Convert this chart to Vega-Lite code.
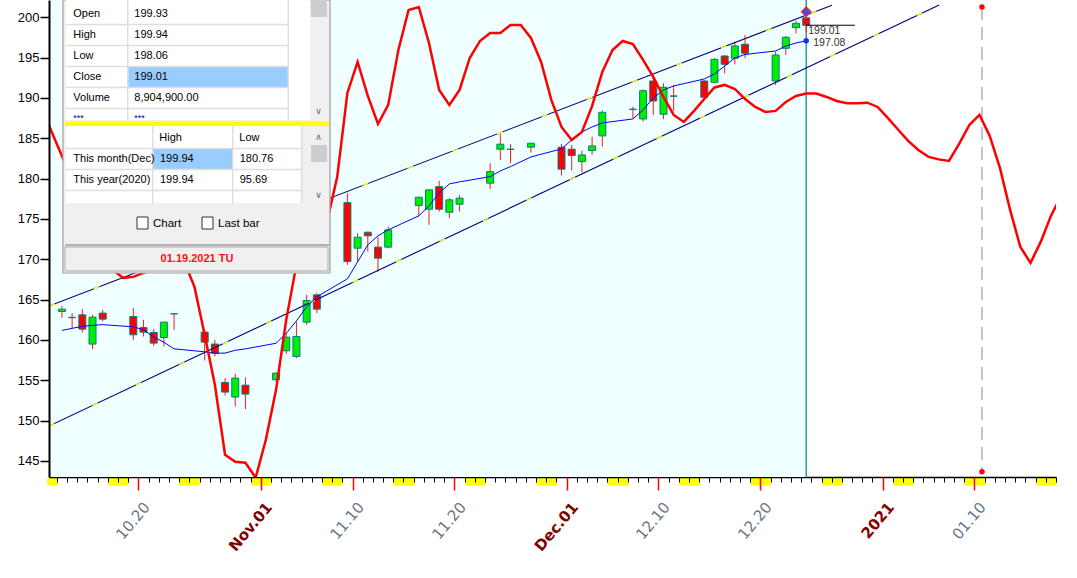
{
"$schema": "https://vega.github.io/schema/vega-lite/v6.json",
"width": 1007, "height": 477,
"autosize": {"type": "none"},
"padding": {"left": 49, "top": 0, "right": 21, "bottom": 101},
"background": "#ffffff",
"config": {"view": {"stroke": null}, "scale": {"continuousPadding": 0}},
"datasets": {
"candles": [
{"date":"2020-10-12T12:00:00Z","open":163.52,"high":164.22,"low":162.73,"close":163.81},
{"date":"2020-10-13T12:00:00Z","open":162.80,"high":163.32,"low":161.46,"close":162.75},
{"date":"2020-10-14T12:00:00Z","open":163.11,"high":163.81,"low":160.91,"close":161.33},
{"date":"2020-10-15T12:00:00Z","open":159.48,"high":163.11,"low":158.86,"close":162.82},
{"date":"2020-10-16T12:00:00Z","open":163.32,"high":163.73,"low":162.28,"close":162.57},
{"date":"2020-10-19T12:00:00Z","open":162.90,"high":163.94,"low":160.01,"close":160.63},
{"date":"2020-10-20T12:00:00Z","open":161.53,"high":162.49,"low":160.42,"close":160.96},
{"date":"2020-10-21T12:00:00Z","open":160.91,"high":161.33,"low":159.26,"close":159.60},
{"date":"2020-10-22T12:00:00Z","open":160.29,"high":162.24,"low":159.18,"close":162.20},
{"date":"2020-10-23T12:00:00Z","open":163.23,"high":163.25,"low":161.25,"close":163.24},
{"date":"2020-10-26T12:00:00Z","open":160.96,"high":161.25,"low":157.44,"close":159.72},
{"date":"2020-10-27T12:00:00Z","open":159.48,"high":160.01,"low":157.94,"close":158.36},
{"date":"2020-10-28T12:00:00Z","open":154.72,"high":155.26,"low":153.11,"close":153.53},
{"date":"2020-10-29T12:00:00Z","open":152.91,"high":155.80,"low":151.74,"close":155.26},
{"date":"2020-10-30T12:00:00Z","open":154.39,"high":155.34,"low":151.42,"close":153.28},
{"date":"2020-11-02T12:00:00Z","open":155.05,"high":155.95,"low":154.95,"close":155.88},
{"date":"2020-11-03T12:00:00Z","open":158.65,"high":160.87,"low":158.27,"close":160.34},
{"date":"2020-11-04T12:00:00Z","open":157.94,"high":162.28,"low":157.74,"close":160.42},
{"date":"2020-11-05T12:00:00Z","open":162.20,"high":165.58,"low":161.87,"close":164.88},
{"date":"2020-11-06T12:00:00Z","open":165.58,"high":165.80,"low":163.32,"close":163.81},
{"date":"2020-11-09T12:00:00Z","open":177.02,"high":178.19,"low":169.30,"close":169.71},
{"date":"2020-11-10T12:00:00Z","open":171.37,"high":173.23,"low":169.71,"close":172.73},
{"date":"2020-11-11T12:00:00Z","open":173.35,"high":173.43,"low":170.95,"close":172.90},
{"date":"2020-11-12T12:00:00Z","open":171.50,"high":172.73,"low":168.47,"close":170.13},
{"date":"2020-11-13T12:00:00Z","open":171.50,"high":174.05,"low":171.37,"close":173.64},
{"date":"2020-11-16T12:00:00Z","open":176.65,"high":177.72,"low":175.37,"close":177.69},
{"date":"2020-11-17T12:00:00Z","open":176.20,"high":178.68,"low":174.26,"close":178.60},
{"date":"2020-11-18T12:00:00Z","open":179.00,"high":179.71,"low":175.91,"close":176.20},
{"date":"2020-11-19T12:00:00Z","open":175.83,"high":177.57,"low":175.09,"close":177.36},
{"date":"2020-11-20T12:00:00Z","open":176.82,"high":177.94,"low":175.91,"close":177.57},
{"date":"2020-11-23T12:00:00Z","open":179.43,"high":181.90,"low":178.72,"close":180.86},
{"date":"2020-11-24T12:00:00Z","open":183.64,"high":185.54,"low":182.31,"close":184.26},
{"date":"2020-11-25T12:00:00Z","open":183.64,"high":184.30,"low":181.90,"close":183.62},
{"date":"2020-11-27T12:00:00Z","open":183.89,"high":184.40,"low":183.22,"close":184.38},
{"date":"2020-11-30T12:00:00Z","open":183.89,"high":184.30,"low":180.37,"close":181.16},
{"date":"2020-12-01T12:00:00Z","open":183.64,"high":184.17,"low":181.00,"close":182.85},
{"date":"2020-12-02T12:00:00Z","open":182.10,"high":183.47,"low":180.76,"close":182.93},
{"date":"2020-12-03T12:00:00Z","open":183.47,"high":185.20,"low":182.93,"close":184.05},
{"date":"2020-12-04T12:00:00Z","open":185.29,"high":188.45,"low":183.96,"close":188.22},
{"date":"2020-12-07T12:00:00Z","open":188.60,"high":188.92,"low":187.48,"close":188.58},
{"date":"2020-12-08T12:00:00Z","open":187.39,"high":191.07,"low":187.06,"close":190.90},
{"date":"2020-12-09T12:00:00Z","open":192.10,"high":192.85,"low":187.89,"close":189.62},
{"date":"2020-12-10T12:00:00Z","open":187.98,"high":191.82,"low":187.36,"close":191.32},
{"date":"2020-12-11T12:00:00Z","open":190.24,"high":191.61,"low":188.39,"close":190.22},
{"date":"2020-12-14T12:00:00Z","open":192.10,"high":192.23,"low":189.96,"close":190.08},
{"date":"2020-12-15T12:00:00Z","open":191.94,"high":194.92,"low":191.82,"close":194.79},
{"date":"2020-12-16T12:00:00Z","open":195.20,"high":195.32,"low":193.06,"close":194.17},
{"date":"2020-12-17T12:00:00Z","open":194.92,"high":196.97,"low":194.17,"close":196.44},
{"date":"2020-12-18T12:00:00Z","open":196.65,"high":197.80,"low":194.92,"close":195.54},
{"date":"2020-12-21T12:00:00Z","open":192.10,"high":195.73,"low":191.61,"close":195.32},
{"date":"2020-12-22T12:00:00Z","open":196.15,"high":197.68,"low":195.32,"close":197.52},
{"date":"2020-12-23T12:00:00Z","open":198.71,"high":199.57,"low":198.01,"close":199.25},
{"date":"2020-12-24T12:00:00Z","open":199.93,"high":199.94,"low":198.06,"close":199.01}
],
"ma": [
{"date":"2020-10-12T12:00:00Z","ma":161.18},{"date":"2020-10-13T12:00:00Z","ma":161.43},{"date":"2020-10-14T12:00:00Z","ma":161.68},{"date":"2020-10-15T12:00:00Z","ma":161.81},{"date":"2020-10-16T12:00:00Z","ma":161.89},
{"date":"2020-10-19T12:00:00Z","ma":161.62},{"date":"2020-10-20T12:00:00Z","ma":161.25},{"date":"2020-10-21T12:00:00Z","ma":160.38},{"date":"2020-10-22T12:00:00Z","ma":159.70},{"date":"2020-10-23T12:00:00Z","ma":158.89},
{"date":"2020-10-26T12:00:00Z","ma":158.52},{"date":"2020-10-27T12:00:00Z","ma":158.34},{"date":"2020-10-28T12:00:00Z","ma":158.36},{"date":"2020-10-29T12:00:00Z","ma":158.71},{"date":"2020-10-30T12:00:00Z","ma":158.89},
{"date":"2020-11-02T12:00:00Z","ma":159.58},{"date":"2020-11-03T12:00:00Z","ma":160.81},{"date":"2020-11-04T12:00:00Z","ma":162.36},{"date":"2020-11-05T12:00:00Z","ma":164.10},{"date":"2020-11-06T12:00:00Z","ma":165.34},
{"date":"2020-11-09T12:00:00Z","ma":167.57},{"date":"2020-11-10T12:00:00Z","ma":169.67},{"date":"2020-11-11T12:00:00Z","ma":171.78},{"date":"2020-11-12T12:00:00Z","ma":172.90},{"date":"2020-11-13T12:00:00Z","ma":173.64},
{"date":"2020-11-16T12:00:00Z","ma":175.37},{"date":"2020-11-17T12:00:00Z","ma":176.61},{"date":"2020-11-18T12:00:00Z","ma":178.22},{"date":"2020-11-19T12:00:00Z","ma":179.34},{"date":"2020-11-20T12:00:00Z","ma":179.59},
{"date":"2020-11-23T12:00:00Z","ma":180.24},{"date":"2020-11-24T12:00:00Z","ma":180.95},{"date":"2020-11-25T12:00:00Z","ma":181.48},{"date":"2020-11-27T12:00:00Z","ma":182.68},
{"date":"2020-11-30T12:00:00Z","ma":183.68},{"date":"2020-12-01T12:00:00Z","ma":184.79},{"date":"2020-12-02T12:00:00Z","ma":185.78},{"date":"2020-12-03T12:00:00Z","ma":186.40},{"date":"2020-12-04T12:00:00Z","ma":186.90},
{"date":"2020-12-07T12:00:00Z","ma":187.39},{"date":"2020-12-08T12:00:00Z","ma":188.51},{"date":"2020-12-09T12:00:00Z","ma":190.00},{"date":"2020-12-10T12:00:00Z","ma":190.99},{"date":"2020-12-11T12:00:00Z","ma":191.48},
{"date":"2020-12-14T12:00:00Z","ma":192.35},{"date":"2020-12-15T12:00:00Z","ma":192.97},{"date":"2020-12-16T12:00:00Z","ma":193.96},{"date":"2020-12-17T12:00:00Z","ma":194.95},{"date":"2020-12-18T12:00:00Z","ma":195.39},
{"date":"2020-12-21T12:00:00Z","ma":195.82},{"date":"2020-12-22T12:00:00Z","ma":196.44},{"date":"2020-12-23T12:00:00Z","ma":196.81},{"date":"2020-12-24T12:00:00Z","ma":197.08}
],
"osc": [
{"date":"2020-10-10T12:00:00Z","osc":188.76},{"date":"2020-10-11T12:00:00Z","osc":185.78},{"date":"2020-10-12T12:00:00Z","osc":182.81},{"date":"2020-10-13T12:00:00Z","osc":179.83},{"date":"2020-10-14T12:00:00Z","osc":176.74},
{"date":"2020-10-15T12:00:00Z","osc":173.89},{"date":"2020-10-16T12:00:00Z","osc":170.91},{"date":"2020-10-17T12:00:00Z","osc":168.68},{"date":"2020-10-18T12:00:00Z","osc":167.69},{"date":"2020-10-19T12:00:00Z","osc":167.81},
{"date":"2020-10-20T12:00:00Z","osc":168.31},{"date":"2020-10-21T12:00:00Z","osc":168.68},{"date":"2020-10-22T12:00:00Z","osc":168.93},{"date":"2020-10-23T12:00:00Z","osc":169.18},{"date":"2020-10-24T12:00:00Z","osc":169.67},
{"date":"2020-10-25T12:00:00Z","osc":166.57},{"date":"2020-10-26T12:00:00Z","osc":160.63},{"date":"2020-10-27T12:00:00Z","osc":154.43},{"date":"2020-10-28T12:00:00Z","osc":145.76},{"date":"2020-10-29T12:00:00Z","osc":144.89},
{"date":"2020-10-30T12:00:00Z","osc":144.76},{"date":"2020-10-31T12:00:00Z","osc":142.91},{"date":"2020-11-01T12:00:00Z","osc":147.62},{"date":"2020-11-02T12:00:00Z","osc":153.81},{"date":"2020-11-03T12:00:00Z","osc":162.49},
{"date":"2020-11-04T12:00:00Z","osc":169.30},{"date":"2020-11-05T12:00:00Z","osc":171.78},{"date":"2020-11-06T12:00:00Z","osc":173.02},{"date":"2020-11-07T12:00:00Z","osc":174.63},{"date":"2020-11-08T12:00:00Z","osc":180.21},
{"date":"2020-11-09T12:00:00Z","osc":190.62},{"date":"2020-11-10T12:00:00Z","osc":194.46},{"date":"2020-11-11T12:00:00Z","osc":190.24},{"date":"2020-11-12T12:00:00Z","osc":186.77},{"date":"2020-11-13T12:00:00Z","osc":189.13},
{"date":"2020-11-14T12:00:00Z","osc":195.94},{"date":"2020-11-15T12:00:00Z","osc":200.90},{"date":"2020-11-16T12:00:00Z","osc":201.27},{"date":"2020-11-17T12:00:00Z","osc":196.81},{"date":"2020-11-18T12:00:00Z","osc":190.99},
{"date":"2020-11-19T12:00:00Z","osc":189.13},{"date":"2020-11-20T12:00:00Z","osc":190.99},{"date":"2020-11-21T12:00:00Z","osc":194.95},{"date":"2020-11-22T12:00:00Z","osc":197.06},{"date":"2020-11-23T12:00:00Z","osc":198.05},
{"date":"2020-11-24T12:00:00Z","osc":198.05},{"date":"2020-11-25T12:00:00Z","osc":199.04},{"date":"2020-11-26T12:00:00Z","osc":199.04},{"date":"2020-11-27T12:00:00Z","osc":197.43},{"date":"2020-11-28T12:00:00Z","osc":194.46},
{"date":"2020-11-29T12:00:00Z","osc":189.75},{"date":"2020-11-30T12:00:00Z","osc":186.40},{"date":"2020-12-01T12:00:00Z","osc":184.79},{"date":"2020-12-02T12:00:00Z","osc":185.78},{"date":"2020-12-03T12:00:00Z","osc":189.00},
{"date":"2020-12-04T12:00:00Z","osc":193.22},{"date":"2020-12-05T12:00:00Z","osc":195.94},{"date":"2020-12-06T12:00:00Z","osc":197.06},{"date":"2020-12-07T12:00:00Z","osc":196.69},{"date":"2020-12-08T12:00:00Z","osc":194.71},
{"date":"2020-12-09T12:00:00Z","osc":192.60},{"date":"2020-12-10T12:00:00Z","osc":190.12},{"date":"2020-12-11T12:00:00Z","osc":187.89},{"date":"2020-12-12T12:00:00Z","osc":187.02},{"date":"2020-12-13T12:00:00Z","osc":188.39},
{"date":"2020-12-14T12:00:00Z","osc":189.87},{"date":"2020-12-15T12:00:00Z","osc":191.30},{"date":"2020-12-16T12:00:00Z","osc":191.61},{"date":"2020-12-17T12:00:00Z","osc":191.11},{"date":"2020-12-18T12:00:00Z","osc":189.87},
{"date":"2020-12-19T12:00:00Z","osc":188.88},{"date":"2020-12-20T12:00:00Z","osc":188.26},{"date":"2020-12-21T12:00:00Z","osc":188.39},{"date":"2020-12-22T12:00:00Z","osc":189.50},{"date":"2020-12-23T12:00:00Z","osc":190.24},
{"date":"2020-12-24T12:00:00Z","osc":190.55},{"date":"2020-12-25T12:00:00Z","osc":190.55},{"date":"2020-12-26T12:00:00Z","osc":190.12},{"date":"2020-12-27T12:00:00Z","osc":189.62},{"date":"2020-12-28T12:00:00Z","osc":189.34},
{"date":"2020-12-29T12:00:00Z","osc":189.34},{"date":"2020-12-30T12:00:00Z","osc":189.41},{"date":"2020-12-31T12:00:00Z","osc":188.88},{"date":"2021-01-01T12:00:00Z","osc":187.52},{"date":"2021-01-02T12:00:00Z","osc":186.09},
{"date":"2021-01-03T12:00:00Z","osc":184.67},{"date":"2021-01-04T12:00:00Z","osc":183.55},{"date":"2021-01-05T12:00:00Z","osc":182.69},{"date":"2021-01-06T12:00:00Z","osc":182.38},{"date":"2021-01-07T12:00:00Z","osc":182.19},
{"date":"2021-01-08T12:00:00Z","osc":184.30},{"date":"2021-01-09T12:00:00Z","osc":186.65},{"date":"2021-01-10T12:00:00Z","osc":187.89},{"date":"2021-01-11T12:00:00Z","osc":185.29},{"date":"2021-01-12T12:00:00Z","osc":181.32},
{"date":"2021-01-13T12:00:00Z","osc":176.12},{"date":"2021-01-14T12:00:00Z","osc":171.53},{"date":"2021-01-15T12:00:00Z","osc":169.55},{"date":"2021-01-16T12:00:00Z","osc":172.15},{"date":"2021-01-17T12:00:00Z","osc":175.37},
{"date":"2021-01-18T12:00:00Z","osc":177.85}
],
"channel": [
{"line":"upper","date":"2020-10-11T05:30:00Z","price":164.20},
{"line":"upper","date":"2020-12-27T00:45:00Z","price":201.48},
{"line":"lower","date":"2020-10-11T05:30:00Z","price":149.31},
{"line":"lower","date":"2021-01-06T13:00:00Z","price":201.52}
],
"last": [{"date":"2020-12-24T12:00:00Z","close":199.01,"ma":197.08}]
},
"layer": [
{
"layer": [
{"data": {"values": [{}]},
 "mark": {"type": "rect", "fill": "#f0ffff"},
 "encoding": {
  "x": {"datum": 1602394400000, "type": "temporal", "scale": {"type": "utc", "domain": [1602394400000, 1610928000000], "padding": 0},
        "axis": {"orient": "bottom", "values": [1602417600000,1602936000000,1603022400000,1603540800000,1603627200000,1604145600000,1604232000000,1604750400000,1604836800000,1605355200000,1605441600000,1605960000000,1606046400000,1606564800000,1606651200000,1607169600000,1607256000000,1607774400000,1607860800000,1608379200000,1608465600000,1608984000000,1609070400000,1609588800000,1609675200000,1610193600000,1610280000000,1610798400000,1610884800000],
                 "tickColor": "#ffff00", "tickWidth": 10.4, "tickSize": 8, "labels": false, "domain": false, "grid": false, "title": null}},
  "x2": {"datum": 1608811200000},
  "y": {"datum": 202.14, "type": "quantitative", "scale": {"domain": [143.0, 202.14], "zero": false, "nice": false, "padding": 0},
        "axis": {"orient": "left", "values": [145,150,155,160,165,170,175,180,185,190,195,200], "tickSize": 9, "tickColor": "#000000", "tickWidth": 1.5, "domain": true, "domainColor": "#000000", "domainWidth": 2, "labels": true, "labelFont": "Liberation Sans", "labelFontSize": 13, "labelColor": "#000000", "labelPadding": 1, "title": null, "grid": false, "zindex": 1}},
  "y2": {"datum": 143.0}
 }},
{"data": {"values": [{}]},
 "mark": {"type": "rule", "color": "#008080", "strokeWidth": 1.2},
 "encoding": {
  "x": {"datum": 1608811200000, "type": "temporal", "scale": {"type": "utc", "domain": [1602394400000, 1610928000000], "padding": 0}, "axis": null},
  "y": {"datum": 202.14, "type": "quantitative", "scale": {"domain": [143.0, 202.14], "zero": false, "nice": false, "padding": 0}, "axis": null},
  "y2": {"datum": 143.0}
 }},
{"data": {"values": [{}]},
 "mark": {"type": "rule", "color": "#c4c4c4", "strokeWidth": 2, "strokeDash": [13, 7]},
 "encoding": {
  "x": {"datum": 1610300700000, "type": "temporal", "scale": {"type": "utc", "domain": [1602394400000, 1610928000000], "padding": 0}, "axis": null},
  "y": {"datum": 201.27, "type": "quantitative", "scale": {"domain": [143.0, 202.14], "zero": false, "nice": false, "padding": 0}, "axis": null},
  "y2": {"datum": 143.65}
 }},
{"data": {"values": [{"p": 201.27}, {"p": 143.65}]},
 "mark": {"type": "point", "filled": true, "color": "#ff0000", "size": 30, "opacity": 1},
 "encoding": {
  "x": {"datum": 1610300700000, "type": "temporal", "scale": {"type": "utc", "domain": [1602394400000, 1610928000000], "padding": 0}, "axis": null},
  "y": {"field": "p", "type": "quantitative", "scale": {"domain": [143.0, 202.14], "zero": false, "nice": false, "padding": 0}, "axis": null}
 }},
{"data": {"name": "candles"},
 "mark": {"type": "rule", "color": "#ff1a1a", "strokeWidth": 1},
 "encoding": {
  "x": {"field": "date", "type": "temporal", "scale": {"type": "utc", "domain": [1602394400000, 1610928000000], "padding": 0},
        "axis": {"orient": "bottom", "tickCount": {"interval": "day", "step": 1}, "tickColor": "#000000", "tickSize": 5, "tickWidth": 1, "labels": false, "domain": true, "domainColor": "#000000", "domainWidth": 1.5, "grid": false, "title": null}},
  "y": {"field": "low", "type": "quantitative", "scale": {"domain": [143.0, 202.14], "zero": false, "nice": false, "padding": 0}, "axis": null},
  "y2": {"field": "high"}
 }},
{"data": {"name": "candles"},
 "mark": {"type": "bar", "width": 7, "stroke": "#008080", "strokeWidth": 1},
 "encoding": {
  "x": {"field": "date", "type": "temporal", "scale": {"type": "utc", "domain": [1602394400000, 1610928000000], "padding": 0},
        "axis": {"orient": "bottom", "values": [1603152000000,1604188800000,1604966400000,1605830400000,1606780800000,1607558400000,1608422400000,1609459200000,1610236800000],
                 "tickColor": "#ff0000", "tickSize": 13, "tickWidth": 1.5, "domain": false, "grid": false, "title": null,
                 "labelExpr": "utcdate(datum.value) == 1 ? (utcmonth(datum.value) == 0 ? utcFormat(datum.value, '%Y') : utcFormat(datum.value, '%b.%d')) : utcFormat(datum.value, '%m.%d')",
                 "labelAngle": -50, "labelAlign": "right", "labelBaseline": "middle", "labelPadding": 14, "labelOffset": 8,
                 "labelFont": "DejaVu Sans", "labelFontSize": 15,
                 "labelColor": {"condition": {"test": "utcdate(datum.value) == 1", "value": "#800000"}, "value": "#667788"},
                 "labelFontWeight": {"condition": {"test": "utcdate(datum.value) == 1", "value": "bold"}, "value": "normal"},
                 "labelOverlap": false, "labelFlush": false, "labelBound": false}},
  "y": {"field": "open", "type": "quantitative", "scale": {"domain": [143.0, 202.14], "zero": false, "nice": false, "padding": 0}, "axis": null},
  "y2": {"field": "close"},
  "fill": {"condition": {"test": "datum.close >= datum.open", "value": "#00ee00"}, "value": "#ff0000"}
 }},
{"data": {"name": "channel"},
 "mark": {"type": "line", "color": "#000080", "strokeWidth": 1.1, "clip": true},
 "encoding": {
  "x": {"field": "date", "type": "temporal", "scale": {"type": "utc", "domain": [1602394400000, 1610928000000], "padding": 0}, "axis": null},
  "y": {"field": "price", "type": "quantitative", "scale": {"domain": [143.0, 202.14], "zero": false, "nice": false, "padding": 0}, "axis": null},
  "detail": {"field": "line"}
 }},
{"data": {"name": "channel"},
 "mark": {"type": "line", "color": "#ffff00", "strokeWidth": 1.3, "strokeDash": [6, 42], "clip": true},
 "encoding": {
  "x": {"field": "date", "type": "temporal", "scale": {"type": "utc", "domain": [1602394400000, 1610928000000], "padding": 0}, "axis": null},
  "y": {"field": "price", "type": "quantitative", "scale": {"domain": [143.0, 202.14], "zero": false, "nice": false, "padding": 0}, "axis": null},
  "detail": {"field": "line"}
 }},
{"data": {"name": "ma"},
 "mark": {"type": "line", "color": "#0000ff", "strokeWidth": 1},
 "encoding": {
  "x": {"field": "date", "type": "temporal", "scale": {"type": "utc", "domain": [1602394400000, 1610928000000], "padding": 0}, "axis": null},
  "y": {"field": "ma", "type": "quantitative", "scale": {"domain": [143.0, 202.14], "zero": false, "nice": false, "padding": 0}, "axis": null}
 }},
{"data": {"name": "osc"},
 "mark": {"type": "line", "color": "#ff0000", "strokeWidth": 2.5, "clip": true},
 "encoding": {
  "x": {"field": "date", "type": "temporal", "scale": {"type": "utc", "domain": [1602394400000, 1610928000000], "padding": 0}, "axis": null},
  "y": {"field": "osc", "type": "quantitative", "scale": {"domain": [143.0, 202.14], "zero": false, "nice": false, "padding": 0}, "axis": null}
 }},
{"data": {"name": "last"},
 "mark": {"type": "rule", "color": "#000000", "strokeWidth": 1},
 "encoding": {
  "x": {"field": "date", "type": "temporal", "scale": {"type": "utc", "domain": [1602394400000, 1610928000000], "padding": 0}, "axis": null},
  "x2": {"datum": 1609224192000},
  "y": {"field": "close", "type": "quantitative", "scale": {"domain": [143.0, 202.14], "zero": false, "nice": false, "padding": 0}, "axis": null}
 }},
{"data": {"name": "last"},
 "mark": {"type": "text", "align": "left", "baseline": "middle", "dx": 2, "dy": 6, "font": "Liberation Sans", "fontSize": 10.5, "color": "#303030"},
 "encoding": {
  "x": {"field": "date", "type": "temporal", "scale": {"type": "utc", "domain": [1602394400000, 1610928000000], "padding": 0}, "axis": null},
  "y": {"field": "close", "type": "quantitative", "scale": {"domain": [143.0, 202.14], "zero": false, "nice": false, "padding": 0}, "axis": null},
  "text": {"field": "close", "type": "quantitative", "format": ".2f"}
 }},
{"data": {"name": "last"},
 "mark": {"type": "text", "align": "left", "baseline": "middle", "dx": 7, "dy": 2, "font": "Liberation Sans", "fontSize": 10.5, "color": "#303030"},
 "encoding": {
  "x": {"field": "date", "type": "temporal", "scale": {"type": "utc", "domain": [1602394400000, 1610928000000], "padding": 0}, "axis": null},
  "y": {"field": "ma", "type": "quantitative", "scale": {"domain": [143.0, 202.14], "zero": false, "nice": false, "padding": 0}, "axis": null},
  "text": {"field": "ma", "type": "quantitative", "format": ".2f"}
 }},
{"data": {"name": "last"},
 "mark": {"type": "point", "filled": true, "color": "#1030ff", "size": 30, "opacity": 1},
 "encoding": {
  "x": {"field": "date", "type": "temporal", "scale": {"type": "utc", "domain": [1602394400000, 1610928000000], "padding": 0}, "axis": null},
  "y": {"field": "ma", "type": "quantitative", "scale": {"domain": [143.0, 202.14], "zero": false, "nice": false, "padding": 0}, "axis": null}
 }},
{"data": {"name": "last"},
 "mark": {"type": "point", "shape": "diamond", "filled": true, "fill": "#3050ff", "stroke": "#ff2020", "strokeWidth": 1.2, "size": 90, "opacity": 1},
 "encoding": {
  "x": {"field": "date", "type": "temporal", "scale": {"type": "utc", "domain": [1602394400000, 1610928000000], "padding": 0}, "axis": null},
  "y": {"datum": 200.69, "type": "quantitative", "scale": {"domain": [143.0, 202.14], "zero": false, "nice": false, "padding": 0}, "axis": null}
 }}
],
"resolve": {"axis": {"x": "independent", "y": "independent"}}
},
{
"data": {"values": [{}]},
"layer": [
{"mark": {"type": "rect", "fill": "#f0f0f0", "stroke": "#a0a0a0", "strokeWidth": 1.2},
 "encoding": {"x": {"datum": 0, "type": "quantitative", "scale": {"domain": [0, 267], "range": [14, 281]}, "axis": null}, "x2": {"datum": 267},
  "y": {"datum": 0, "type": "quantitative", "scale": {"domain": [0, 273], "range": [0, 273]}, "axis": null}, "y2": {"datum": 273}}},
{"mark": {"type": "rect", "fill": "#ffffff"},
 "encoding": {"x": {"datum": 3, "type": "quantitative", "scale": {"domain": [0, 267], "range": [14, 281]}, "axis": null}, "x2": {"datum": 247},
  "y": {"datum": 0, "type": "quantitative", "scale": {"domain": [0, 273], "range": [0, 273]}, "axis": null}, "y2": {"datum": 120}}},
{"mark": {"type": "rect", "fill": "#cdcdcd"},
 "encoding": {"x": {"datum": 248, "type": "quantitative", "scale": {"domain": [0, 267], "range": [14, 281]}, "axis": null}, "x2": {"datum": 264},
  "y": {"datum": 0, "type": "quantitative", "scale": {"domain": [0, 273], "range": [0, 273]}, "axis": null}, "y2": {"datum": 17}}},
{"mark": {"type": "rect", "fill": "#99ccff"},
 "encoding": {"x": {"datum": 65.3, "type": "quantitative", "scale": {"domain": [0, 267], "range": [14, 281]}, "axis": null}, "x2": {"datum": 225},
  "y": {"datum": 67, "type": "quantitative", "scale": {"domain": [0, 273], "range": [0, 273]}, "axis": null}, "y2": {"datum": 87}}},
{"data": {"values": [{"v": 24.5}, {"v": 45.5}, {"v": 66.5}, {"v": 87.5}, {"v": 108.5}]},
 "mark": {"type": "rule", "color": "#dedede", "strokeWidth": 1.5},
 "encoding": {"x": {"datum": 3, "type": "quantitative", "scale": {"domain": [0, 267], "range": [14, 281]}, "axis": null}, "x2": {"datum": 225},
  "y": {"field": "v", "type": "quantitative", "scale": {"domain": [0, 273], "range": [0, 273]}, "axis": null}}},
{"data": {"values": [{"u": 64.7}, {"u": 225.3}]},
 "mark": {"type": "rule", "color": "#dedede", "strokeWidth": 1.5},
 "encoding": {"x": {"field": "u", "type": "quantitative", "scale": {"domain": [0, 267], "range": [14, 281]}, "axis": null},
  "y": {"datum": 0, "type": "quantitative", "scale": {"domain": [0, 273], "range": [0, 273]}, "axis": null}, "y2": {"datum": 120}}},
{"mark": {"type": "text", "text": "Open", "align": "left", "baseline": "middle", "font": "Liberation Sans", "fontSize": 11, "color": "#000000"},
 "encoding": {"x": {"datum": 10.3, "type": "quantitative", "scale": {"domain": [0, 267], "range": [14, 281]}, "axis": null},
  "y": {"datum": 14.3, "type": "quantitative", "scale": {"domain": [0, 273], "range": [0, 273]}, "axis": null}}},
{"mark": {"type": "text", "text": "199.93", "align": "left", "baseline": "middle", "font": "Liberation Sans", "fontSize": 11, "color": "#000000"},
 "encoding": {"x": {"datum": 71.3, "type": "quantitative", "scale": {"domain": [0, 267], "range": [14, 281]}, "axis": null},
  "y": {"datum": 14.3, "type": "quantitative", "scale": {"domain": [0, 273], "range": [0, 273]}, "axis": null}}},
{"mark": {"type": "text", "text": "High", "align": "left", "baseline": "middle", "font": "Liberation Sans", "fontSize": 11, "color": "#000000"},
 "encoding": {"x": {"datum": 10.3, "type": "quantitative", "scale": {"domain": [0, 267], "range": [14, 281]}, "axis": null},
  "y": {"datum": 35.3, "type": "quantitative", "scale": {"domain": [0, 273], "range": [0, 273]}, "axis": null}}},
{"mark": {"type": "text", "text": "199.94", "align": "left", "baseline": "middle", "font": "Liberation Sans", "fontSize": 11, "color": "#000000"},
 "encoding": {"x": {"datum": 71.3, "type": "quantitative", "scale": {"domain": [0, 267], "range": [14, 281]}, "axis": null},
  "y": {"datum": 35.3, "type": "quantitative", "scale": {"domain": [0, 273], "range": [0, 273]}, "axis": null}}},
{"mark": {"type": "text", "text": "Low", "align": "left", "baseline": "middle", "font": "Liberation Sans", "fontSize": 11, "color": "#000000"},
 "encoding": {"x": {"datum": 10.3, "type": "quantitative", "scale": {"domain": [0, 267], "range": [14, 281]}, "axis": null},
  "y": {"datum": 56.3, "type": "quantitative", "scale": {"domain": [0, 273], "range": [0, 273]}, "axis": null}}},
{"mark": {"type": "text", "text": "198.06", "align": "left", "baseline": "middle", "font": "Liberation Sans", "fontSize": 11, "color": "#000000"},
 "encoding": {"x": {"datum": 71.3, "type": "quantitative", "scale": {"domain": [0, 267], "range": [14, 281]}, "axis": null},
  "y": {"datum": 56.3, "type": "quantitative", "scale": {"domain": [0, 273], "range": [0, 273]}, "axis": null}}},
{"mark": {"type": "text", "text": "Close", "align": "left", "baseline": "middle", "font": "Liberation Sans", "fontSize": 11, "color": "#000000"},
 "encoding": {"x": {"datum": 10.3, "type": "quantitative", "scale": {"domain": [0, 267], "range": [14, 281]}, "axis": null},
  "y": {"datum": 77.3, "type": "quantitative", "scale": {"domain": [0, 273], "range": [0, 273]}, "axis": null}}},
{"mark": {"type": "text", "text": "199.01", "align": "left", "baseline": "middle", "font": "Liberation Sans", "fontSize": 11, "color": "#000000"},
 "encoding": {"x": {"datum": 71.3, "type": "quantitative", "scale": {"domain": [0, 267], "range": [14, 281]}, "axis": null},
  "y": {"datum": 77.3, "type": "quantitative", "scale": {"domain": [0, 273], "range": [0, 273]}, "axis": null}}},
{"mark": {"type": "text", "text": "Volume", "align": "left", "baseline": "middle", "font": "Liberation Sans", "fontSize": 11, "color": "#000000"},
 "encoding": {"x": {"datum": 10.3, "type": "quantitative", "scale": {"domain": [0, 267], "range": [14, 281]}, "axis": null},
  "y": {"datum": 98.3, "type": "quantitative", "scale": {"domain": [0, 273], "range": [0, 273]}, "axis": null}}},
{"mark": {"type": "text", "text": "8,904,900.00", "align": "left", "baseline": "middle", "font": "Liberation Sans", "fontSize": 11, "color": "#000000"},
 "encoding": {"x": {"datum": 71.3, "type": "quantitative", "scale": {"domain": [0, 267], "range": [14, 281]}, "axis": null},
  "y": {"datum": 98.3, "type": "quantitative", "scale": {"domain": [0, 273], "range": [0, 273]}, "axis": null}}},
{"mark": {"type": "text", "text": "***", "align": "left", "baseline": "middle", "font": "Liberation Sans", "fontSize": 9, "color": "#000080"},
 "encoding": {"x": {"datum": 10.3, "type": "quantitative", "scale": {"domain": [0, 267], "range": [14, 281]}, "axis": null},
  "y": {"datum": 118, "type": "quantitative", "scale": {"domain": [0, 273], "range": [0, 273]}, "axis": null}}},
{"mark": {"type": "text", "text": "***", "align": "left", "baseline": "middle", "font": "Liberation Sans", "fontSize": 9, "color": "#000080"},
 "encoding": {"x": {"datum": 71.3, "type": "quantitative", "scale": {"domain": [0, 267], "range": [14, 281]}, "axis": null},
  "y": {"datum": 118, "type": "quantitative", "scale": {"domain": [0, 273], "range": [0, 273]}, "axis": null}}},
{"mark": {"type": "text", "text": "∨", "align": "center", "baseline": "middle", "font": "DejaVu Sans", "fontSize": 9, "color": "#606060"},
 "encoding": {"x": {"datum": 255.5, "type": "quantitative", "scale": {"domain": [0, 267], "range": [14, 281]}, "axis": null},
  "y": {"datum": 111, "type": "quantitative", "scale": {"domain": [0, 273], "range": [0, 273]}, "axis": null}}},
{"mark": {"type": "rect", "fill": "#ffff00"},
 "encoding": {"x": {"datum": 2, "type": "quantitative", "scale": {"domain": [0, 267], "range": [14, 281]}, "axis": null}, "x2": {"datum": 266},
  "y": {"datum": 121.5, "type": "quantitative", "scale": {"domain": [0, 273], "range": [0, 273]}, "axis": null}, "y2": {"datum": 126}}},
{"mark": {"type": "rect", "fill": "#ffffff"},
 "encoding": {"x": {"datum": 3, "type": "quantitative", "scale": {"domain": [0, 267], "range": [14, 281]}, "axis": null}, "x2": {"datum": 239},
  "y": {"datum": 126, "type": "quantitative", "scale": {"domain": [0, 273], "range": [0, 273]}, "axis": null}, "y2": {"datum": 203}}},
{"mark": {"type": "rect", "fill": "#99ccff"},
 "encoding": {"x": {"datum": 90, "type": "quantitative", "scale": {"domain": [0, 267], "range": [14, 281]}, "axis": null}, "x2": {"datum": 169},
  "y": {"datum": 149, "type": "quantitative", "scale": {"domain": [0, 273], "range": [0, 273]}, "axis": null}, "y2": {"datum": 169}}},
{"data": {"values": [{"v": 148.5}, {"v": 169.5}, {"v": 190.5}]},
 "mark": {"type": "rule", "color": "#dedede", "strokeWidth": 1.5},
 "encoding": {"x": {"datum": 3, "type": "quantitative", "scale": {"domain": [0, 267], "range": [14, 281]}, "axis": null}, "x2": {"datum": 239},
  "y": {"field": "v", "type": "quantitative", "scale": {"domain": [0, 273], "range": [0, 273]}, "axis": null}}},
{"data": {"values": [{"u": 89.7}, {"u": 169.7}, {"u": 238.7}]},
 "mark": {"type": "rule", "color": "#dedede", "strokeWidth": 1.5},
 "encoding": {"x": {"field": "u", "type": "quantitative", "scale": {"domain": [0, 267], "range": [14, 281]}, "axis": null},
  "y": {"datum": 126, "type": "quantitative", "scale": {"domain": [0, 273], "range": [0, 273]}, "axis": null}, "y2": {"datum": 203}}},
{"mark": {"type": "rect", "fill": "#cdcdcd"},
 "encoding": {"x": {"datum": 248, "type": "quantitative", "scale": {"domain": [0, 267], "range": [14, 281]}, "axis": null}, "x2": {"datum": 264},
  "y": {"datum": 145, "type": "quantitative", "scale": {"domain": [0, 273], "range": [0, 273]}, "axis": null}, "y2": {"datum": 162}}},
{"mark": {"type": "text", "text": "∧", "align": "center", "baseline": "middle", "font": "DejaVu Sans", "fontSize": 9, "color": "#606060"},
 "encoding": {"x": {"datum": 255.5, "type": "quantitative", "scale": {"domain": [0, 267], "range": [14, 281]}, "axis": null},
  "y": {"datum": 137, "type": "quantitative", "scale": {"domain": [0, 273], "range": [0, 273]}, "axis": null}}},
{"mark": {"type": "text", "text": "∨", "align": "center", "baseline": "middle", "font": "DejaVu Sans", "fontSize": 9, "color": "#606060"},
 "encoding": {"x": {"datum": 255.5, "type": "quantitative", "scale": {"domain": [0, 267], "range": [14, 281]}, "axis": null},
  "y": {"datum": 195, "type": "quantitative", "scale": {"domain": [0, 273], "range": [0, 273]}, "axis": null}}},
{"mark": {"type": "text", "text": "High", "align": "left", "baseline": "middle", "font": "Liberation Sans", "fontSize": 11, "color": "#000000"},
 "encoding": {"x": {"datum": 96.3, "type": "quantitative", "scale": {"domain": [0, 267], "range": [14, 281]}, "axis": null},
  "y": {"datum": 137.7, "type": "quantitative", "scale": {"domain": [0, 273], "range": [0, 273]}, "axis": null}}},
{"mark": {"type": "text", "text": "Low", "align": "left", "baseline": "middle", "font": "Liberation Sans", "fontSize": 11, "color": "#000000"},
 "encoding": {"x": {"datum": 176.3, "type": "quantitative", "scale": {"domain": [0, 267], "range": [14, 281]}, "axis": null},
  "y": {"datum": 137.7, "type": "quantitative", "scale": {"domain": [0, 273], "range": [0, 273]}, "axis": null}}},
{"mark": {"type": "text", "text": "This month(Dec)", "align": "left", "baseline": "middle", "font": "Liberation Sans", "fontSize": 11, "color": "#000000"},
 "encoding": {"x": {"datum": 10.3, "type": "quantitative", "scale": {"domain": [0, 267], "range": [14, 281]}, "axis": null},
  "y": {"datum": 159, "type": "quantitative", "scale": {"domain": [0, 273], "range": [0, 273]}, "axis": null}}},
{"mark": {"type": "text", "text": "199.94", "align": "left", "baseline": "middle", "font": "Liberation Sans", "fontSize": 11, "color": "#000000"},
 "encoding": {"x": {"datum": 97, "type": "quantitative", "scale": {"domain": [0, 267], "range": [14, 281]}, "axis": null},
  "y": {"datum": 159, "type": "quantitative", "scale": {"domain": [0, 273], "range": [0, 273]}, "axis": null}}},
{"mark": {"type": "text", "text": "180.76", "align": "left", "baseline": "middle", "font": "Liberation Sans", "fontSize": 11, "color": "#000000"},
 "encoding": {"x": {"datum": 176.7, "type": "quantitative", "scale": {"domain": [0, 267], "range": [14, 281]}, "axis": null},
  "y": {"datum": 159, "type": "quantitative", "scale": {"domain": [0, 273], "range": [0, 273]}, "axis": null}}},
{"mark": {"type": "text", "text": "This year(2020)", "align": "left", "baseline": "middle", "font": "Liberation Sans", "fontSize": 11, "color": "#000000"},
 "encoding": {"x": {"datum": 10.3, "type": "quantitative", "scale": {"domain": [0, 267], "range": [14, 281]}, "axis": null},
  "y": {"datum": 180, "type": "quantitative", "scale": {"domain": [0, 273], "range": [0, 273]}, "axis": null}}},
{"mark": {"type": "text", "text": "199.94", "align": "left", "baseline": "middle", "font": "Liberation Sans", "fontSize": 11, "color": "#000000"},
 "encoding": {"x": {"datum": 97, "type": "quantitative", "scale": {"domain": [0, 267], "range": [14, 281]}, "axis": null},
  "y": {"datum": 180, "type": "quantitative", "scale": {"domain": [0, 273], "range": [0, 273]}, "axis": null}}},
{"mark": {"type": "text", "text": "95.69", "align": "left", "baseline": "middle", "font": "Liberation Sans", "fontSize": 11, "color": "#000000"},
 "encoding": {"x": {"datum": 176.7, "type": "quantitative", "scale": {"domain": [0, 267], "range": [14, 281]}, "axis": null},
  "y": {"datum": 180, "type": "quantitative", "scale": {"domain": [0, 273], "range": [0, 273]}, "axis": null}}},
{"mark": {"type": "rect", "fill": "#ffffff", "stroke": "#333333", "strokeWidth": 1},
 "encoding": {"x": {"datum": 74, "type": "quantitative", "scale": {"domain": [0, 267], "range": [14, 281]}, "axis": null}, "x2": {"datum": 85},
  "y": {"datum": 217, "type": "quantitative", "scale": {"domain": [0, 273], "range": [0, 273]}, "axis": null}, "y2": {"datum": 229}}},
{"mark": {"type": "rect", "fill": "#ffffff", "stroke": "#333333", "strokeWidth": 1},
 "encoding": {"x": {"datum": 139, "type": "quantitative", "scale": {"domain": [0, 267], "range": [14, 281]}, "axis": null}, "x2": {"datum": 150},
  "y": {"datum": 217, "type": "quantitative", "scale": {"domain": [0, 273], "range": [0, 273]}, "axis": null}, "y2": {"datum": 229}}},
{"mark": {"type": "text", "text": "Chart", "align": "left", "baseline": "middle", "font": "Liberation Sans", "fontSize": 11.5, "color": "#000000"},
 "encoding": {"x": {"datum": 90, "type": "quantitative", "scale": {"domain": [0, 267], "range": [14, 281]}, "axis": null},
  "y": {"datum": 223.5, "type": "quantitative", "scale": {"domain": [0, 273], "range": [0, 273]}, "axis": null}}},
{"mark": {"type": "text", "text": "Last bar", "align": "left", "baseline": "middle", "font": "Liberation Sans", "fontSize": 11.5, "color": "#000000"},
 "encoding": {"x": {"datum": 155, "type": "quantitative", "scale": {"domain": [0, 267], "range": [14, 281]}, "axis": null},
  "y": {"datum": 223.5, "type": "quantitative", "scale": {"domain": [0, 273], "range": [0, 273]}, "axis": null}}},
{"mark": {"type": "rule", "color": "#a0a0a0", "strokeWidth": 1.5},
 "encoding": {"x": {"datum": 2, "type": "quantitative", "scale": {"domain": [0, 267], "range": [14, 281]}, "axis": null}, "x2": {"datum": 266},
  "y": {"datum": 245, "type": "quantitative", "scale": {"domain": [0, 273], "range": [0, 273]}, "axis": null}}},
{"mark": {"type": "rect", "fill": "#f0f0f0", "stroke": "#a8a8a8", "strokeWidth": 1},
 "encoding": {"x": {"datum": 2, "type": "quantitative", "scale": {"domain": [0, 267], "range": [14, 281]}, "axis": null}, "x2": {"datum": 265},
  "y": {"datum": 247, "type": "quantitative", "scale": {"domain": [0, 273], "range": [0, 273]}, "axis": null}, "y2": {"datum": 271}}},
{"mark": {"type": "text", "text": "01.19.2021 TU", "align": "center", "baseline": "middle", "font": "Liberation Sans", "fontSize": 11, "fontWeight": "bold", "color": "#ff1010"},
 "encoding": {"x": {"datum": 134, "type": "quantitative", "scale": {"domain": [0, 267], "range": [14, 281]}, "axis": null},
  "y": {"datum": 259, "type": "quantitative", "scale": {"domain": [0, 273], "range": [0, 273]}, "axis": null}}}
]
}
],
"resolve": {"scale": {"x": "independent", "y": "independent"}}
}
